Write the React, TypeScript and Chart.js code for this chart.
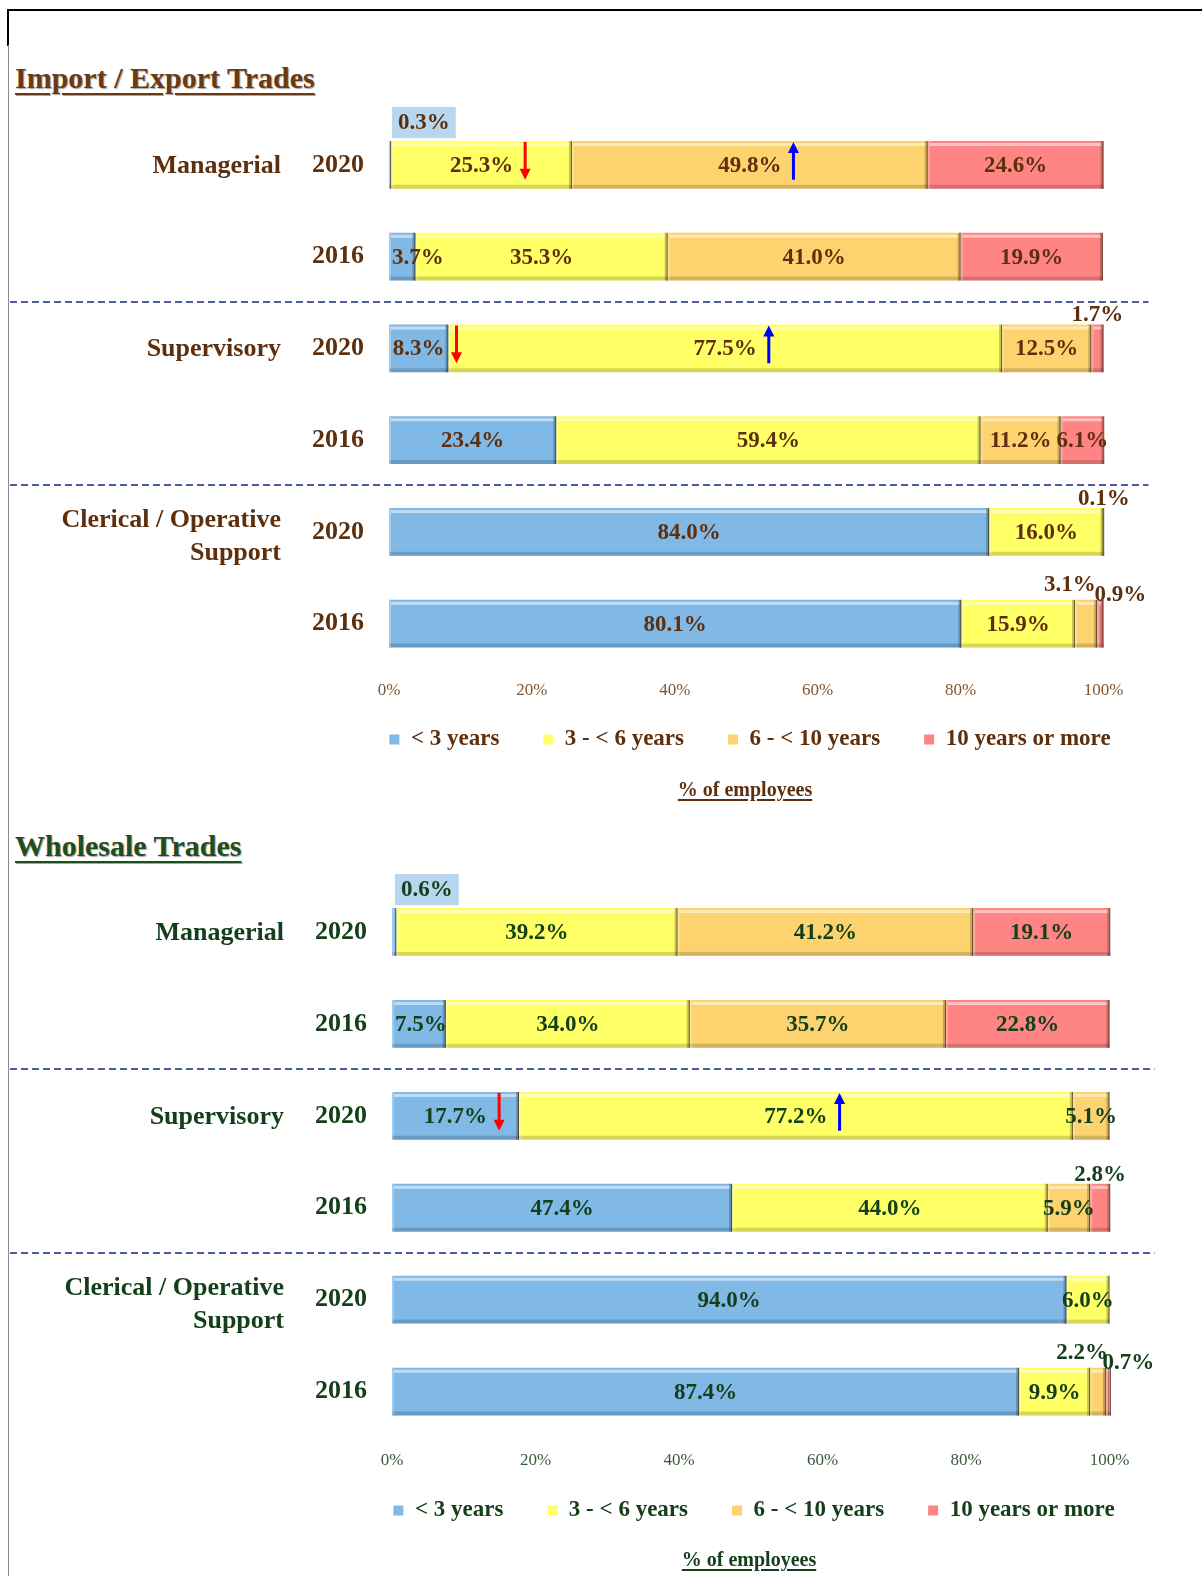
import React, { useEffect, useRef } from "react";
import { Chart, registerables } from "chart.js";

Chart.register(...registerables);

// ---------- data ----------
const seriesNames = ["< 3 years", "3 - < 6 years", "6 - < 10 years", "10 years or more"];
const rowYears = ["2020", "2016", "2020", "2016", "2020", "2016"];
const groupNames = ["Managerial", "Supervisory", "Clerical / Operative\nSupport"];
const xTickValues = [0, 20, 40, 60, 80, 100];

// Import / Export Trades (% of employees), one value per row of rowYears
const importUnder3 = [0.3, 3.7, 8.3, 23.4, 84.0, 80.1];
const import3to6 = [25.3, 35.3, 77.5, 59.4, 16.0, 15.9];
const import6to10 = [49.8, 41.0, 12.5, 11.2, 0.1, 3.1];
const import10plus = [24.6, 19.9, 1.7, 6.1, 0, 0.9];

// Wholesale Trades (% of employees)
const wholesaleUnder3 = [0.6, 7.5, 17.7, 47.4, 94.0, 87.4];
const wholesale3to6 = [39.2, 34.0, 77.2, 44.0, 6.0, 9.9];
const wholesale6to10 = [41.2, 35.7, 5.1, 5.9, 0, 2.2];
const wholesale10plus = [19.1, 22.8, 0, 2.8, 0, 0.7];

// change markers: [row, series, direction]
const importArrows: [number, number, string][] = [
  [0, 1, "down"],
  [0, 2, "up"],
  [2, 0, "down"],
  [2, 1, "up"],
];
const wholesaleArrows: [number, number, string][] = [
  [2, 0, "down"],
  [2, 1, "up"],
];

// ---------- styles ----------
const SERIF = "'Liberation Serif', 'Times New Roman', serif";
const seriesColors = ["#80b8e6", "#ffff66", "#fdd36f", "#ff8585"];

type PanelCfg = {
  series: number[][];
  arrows: [number, number, string][];
  textColor: string;
  tickColor: string;
  top: number;
  height: number;
  padLeft: number;
  padTop: number;
  yWidth: number;
  rightWidth: number;
  tickPad: number;
  legendShift: number;
};

function isSmall(series: number[][], d: number, i: number) {
  const v = series[d][i];
  return d > 0 && v > 0 && v < 3.5;
}

function drawArrow(ctx: CanvasRenderingContext2D, x: number, top: number, bottom: number, dir: string) {
  const head = 11;
  const hw = 5.5;
  const color = dir === "down" ? "#ff0000" : "#0000ff";
  ctx.save();
  ctx.strokeStyle = color;
  ctx.fillStyle = color;
  ctx.lineWidth = 3;
  ctx.beginPath();
  if (dir === "down") {
    ctx.moveTo(x, top);
    ctx.lineTo(x, bottom - head + 1);
    ctx.stroke();
    ctx.beginPath();
    ctx.moveTo(x - hw, bottom - head);
    ctx.lineTo(x + hw, bottom - head);
    ctx.lineTo(x, bottom);
  } else {
    ctx.moveTo(x, top + head - 1);
    ctx.lineTo(x, bottom);
    ctx.stroke();
    ctx.beginPath();
    ctx.moveTo(x - hw, top + head);
    ctx.lineTo(x + hw, top + head);
    ctx.lineTo(x, top);
  }
  ctx.closePath();
  ctx.fill();
  ctx.restore();
}

function buildConfig(cfg: PanelCfg): any {
  const decor = {
    id: "decor",
    afterLayout(chart: any) {
      const lg = chart.legend;
      if (lg) {
        lg.top -= cfg.legendShift;
        lg.bottom -= cfg.legendShift;
      }
    },
    afterDatasetsDraw(chart: any) {
      const ctx: CanvasRenderingContext2D = chart.ctx;
      const area = chart.chartArea;
      const yScale = chart.scales.y;
      const series = cfg.series;

      // bevel look on every bar segment
      ctx.save();
      series.forEach((vals, d) => {
        const meta = chart.getDatasetMeta(d);
        meta.data.forEach((el: any, i: number) => {
          if (!vals[i]) return;
          const p = el.getProps(["x", "y", "base", "height"], true);
          const x0 = Math.min(p.x, p.base);
          const x1 = Math.max(p.x, p.base);
          const y0 = p.y - p.height / 2;
          const y1 = p.y + p.height / 2;
          const w = x1 - x0;
          const h = y1 - y0;
          ctx.fillStyle = "rgba(255,255,255,0.5)";
          ctx.fillRect(x0 + 2, y0 + 2, Math.max(w - 4, 0), 3);
          ctx.fillStyle = "rgba(0,0,0,0.16)";
          ctx.fillRect(x0, y1 - 4, w, 4);
          ctx.fillStyle = "rgba(255,255,255,0.28)";
          ctx.fillRect(x0, y0, Math.min(2, w), h);
          if (w > 5) {
            ctx.fillStyle = "rgba(0,0,0,0.22)";
            ctx.fillRect(x1 - 3, y0, 3, h);
          }
          ctx.fillStyle = "rgba(70,50,20,0.75)";
          ctx.fillRect(x1 - 1, y0, 1, h);
        });
      });
      ctx.restore();

      // data labels and arrows
      ctx.save();
      ctx.font = `bold 23px ${SERIF}`;
      ctx.textAlign = "center";
      ctx.textBaseline = "middle";
      series.forEach((vals, d) => {
        const meta = chart.getDatasetMeta(d);
        meta.data.forEach((el: any, i: number) => {
          const v = vals[i];
          if (!v) return;
          const p = el.getProps(["x", "y", "base", "height"], true);
          const x0 = Math.min(p.x, p.base);
          const x1 = Math.max(p.x, p.base);
          const y0 = p.y - p.height / 2;
          const y1 = p.y + p.height / 2;
          const txt = v.toFixed(1) + "%";
          const tw = ctx.measureText(txt).width;
          let cx = (x0 + x1) / 2;
          let cy = p.y + 1;
          if (d === 0 && v < 1) {
            const bw = tw + 12;
            const bx = x0 + 3;
            ctx.fillStyle = "#b8d6ef";
            ctx.fillRect(bx, y0 - 34, bw, 31);
            cx = bx + bw / 2;
            cy = y0 - 18;
          } else if (isSmall(series, d, i)) {
            const nextSmall = d < series.length - 1 && isSmall(series, d + 1, i);
            const prevSmall = isSmall(series, d - 1, i);
            if (nextSmall) {
              cx -= 16;
              cy = y0 - 15;
            } else if (prevSmall) {
              cx += 20;
              cy = y0 - 5;
            } else {
              cy = y0 - 9;
            }
          } else {
            cx = Math.max(cx, area.left + tw / 2 + 3);
          }
          ctx.fillStyle = cfg.textColor;
          ctx.fillText(txt, cx, cy);
          cfg.arrows.forEach(([r, s, dir]) => {
            if (r === i && s === d) drawArrow(ctx, cx + tw / 2 + 12, y0 + 1, y1 - 9, dir);
          });
        });
      });
      ctx.restore();

      // group labels
      ctx.save();
      ctx.font = `bold 26px ${SERIF}`;
      ctx.textAlign = "right";
      ctx.textBaseline = "middle";
      ctx.fillStyle = cfg.textColor;
      groupNames.forEach((g, k) => {
        const yc = yScale.getPixelForValue(k * 2);
        const lines = g.split("\n");
        const lh = 33;
        const start = yc - ((lines.length - 1) * lh) / 2 + (lines.length > 1 ? 5 : 1);
        lines.forEach((ln, j) => ctx.fillText(ln, area.left - 108, start + j * lh));
      });
      ctx.restore();

      // dashed separators between groups
      ctx.save();
      ctx.strokeStyle = "#4b5d9d";
      ctx.lineWidth = 2;
      ctx.setLineDash([7, 4]);
      for (let k = 1; k < groupNames.length; k++) {
        const ya = yScale.getPixelForValue(k * 2 - 1);
        const yb = yScale.getPixelForValue(k * 2);
        const ym = Math.round((ya + yb) / 2) - 1;
        ctx.beginPath();
        ctx.moveTo(10, ym);
        ctx.lineTo(area.right + 45, ym);
        ctx.stroke();
      }
      ctx.restore();
    },
  };

  const noPad = (s: any) => {
    s.paddingTop = 0;
    s.paddingBottom = 0;
    s.paddingLeft = 0;
    s.paddingRight = 0;
  };

  return {
    type: "bar",
    data: {
      labels: rowYears,
      datasets: cfg.series.map((vals, d) => ({
        label: seriesNames[d],
        data: vals,
        backgroundColor: seriesColors[d],
        borderWidth: 0,
        yAxisID: "y",
        xAxisID: "x",
        barPercentage: 0.52,
        categoryPercentage: 1,
      })),
    },
    options: {
      indexAxis: "y",
      responsive: false,
      animation: false,
      devicePixelRatio: 1,
      events: [],
      layout: { padding: { left: cfg.padLeft, top: cfg.padTop, right: 0, bottom: 0 } },
      plugins: {
        tooltip: { enabled: false },
        legend: {
          position: "bottom",
          align: "center",
          labels: {
            boxWidth: 10,
            boxHeight: 10,
            padding: 44,
            color: cfg.textColor,
            font: { family: SERIF, size: 23, weight: "bold" },
          },
        },
      },
      scales: {
        x: {
          stacked: true,
          min: 0,
          max: 100,
          afterBuildTicks: (s: any) => {
            s.ticks = xTickValues.map((v) => ({ value: v }));
          },
          afterFit: noPad,
          grid: { display: false, drawTicks: false },
          border: { display: false },
          ticks: {
            padding: cfg.tickPad,
            maxRotation: 0,
            autoSkip: false,
            color: cfg.tickColor,
            font: { family: SERIF, size: 17 },
            callback: (v: any) => v + "%",
          },
        },
        y: {
          stacked: true,
          position: "left",
          afterFit: (s: any) => {
            s.width = cfg.yWidth;
            noPad(s);
          },
          grid: { display: false, drawTicks: false },
          border: { display: false },
          ticks: {
            padding: 25,
            color: cfg.textColor,
            font: { family: SERIF, size: 26, weight: "bold" },
          },
        },
        yr: {
          type: "linear",
          position: "right",
          display: true,
          afterFit: (s: any) => {
            s.width = cfg.rightWidth;
            noPad(s);
          },
          grid: { display: false, drawTicks: false },
          border: { display: false },
          ticks: { display: false },
        },
      },
    },
    plugins: [decor],
  };
}

function Panel({ cfg }: { cfg: PanelCfg }) {
  const ref = useRef<HTMLCanvasElement>(null);
  useEffect(() => {
    const chart = new Chart(ref.current as HTMLCanvasElement, buildConfig(cfg));
    return () => chart.destroy();
  }, []);
  return (
    <canvas
      ref={ref}
      width={1202}
      height={cfg.height}
      style={{ position: "absolute", left: 0, top: cfg.top, width: 1202, height: cfg.height }}
    />
  );
}

const importCfg: PanelCfg = {
  series: [importUnder3, import3to6, import6to10, import10plus],
  arrows: importArrows,
  textColor: "#5e2f0c",
  tickColor: "#85542a",
  top: 100,
  height: 689,
  padLeft: 298,
  padTop: 19,
  yWidth: 91,
  rightWidth: 98.5,
  tickPad: 11,
  legendShift: 28,
};

const wholesaleCfg: PanelCfg = {
  series: [wholesaleUnder3, wholesale3to6, wholesale6to10, wholesale10plus],
  arrows: wholesaleArrows,
  textColor: "#13401a",
  tickColor: "#3b5a3b",
  top: 860,
  height: 700,
  padLeft: 306,
  padTop: 26,
  yWidth: 86,
  rightWidth: 92.5,
  tickPad: 12.5,
  legendShift: 28,
};

function Heading({ text, top, color }: { text: string; top: number; color: string }) {
  return (
    <div
      style={{
        position: "absolute",
        left: 15,
        top,
        fontFamily: SERIF,
        fontWeight: "bold",
        fontSize: 30,
        lineHeight: "30px",
        color,
        textDecoration: "underline",
        textDecorationThickness: 2,
        textUnderlineOffset: 5,
        textShadow: "1px 1px 1px rgba(0,0,0,0.35)",
        whiteSpace: "nowrap",
      }}
    >
      {text}
    </div>
  );
}

function AxisTitle({ cx, cy, color }: { cx: number; cy: number; color: string }) {
  return (
    <div
      style={{
        position: "absolute",
        left: cx - 150,
        width: 300,
        top: cy - 10,
        textAlign: "center",
        fontFamily: SERIF,
        fontWeight: "bold",
        fontSize: 20,
        lineHeight: "20px",
        color,
        textDecoration: "underline",
        textUnderlineOffset: 3,
      }}
    >
      % of employees
    </div>
  );
}

export default function App() {
  return (
    <div style={{ position: "absolute", left: 0, top: 0, width: 1202, height: 1576, background: "#fff", overflow: "hidden" }}>
      <div style={{ position: "absolute", left: 8, top: 9, width: 1194, height: 2, background: "#000" }} />
      <div style={{ position: "absolute", left: 7, top: 9, width: 2, height: 37, background: "#000" }} />
      <div style={{ position: "absolute", left: 8, top: 45, width: 1, height: 1531, background: "#8a8a8a" }} />
      <Heading text="Import / Export Trades" top={63} color="#6b3a12" />
      <Panel cfg={importCfg} />
      <AxisTitle cx={745} cy={789} color="#5e2f0c" />
      <Heading text="Wholesale Trades" top={831} color="#1e4d1e" />
      <Panel cfg={wholesaleCfg} />
      <AxisTitle cx={749} cy={1559} color="#13401a" />
    </div>
  );
}
